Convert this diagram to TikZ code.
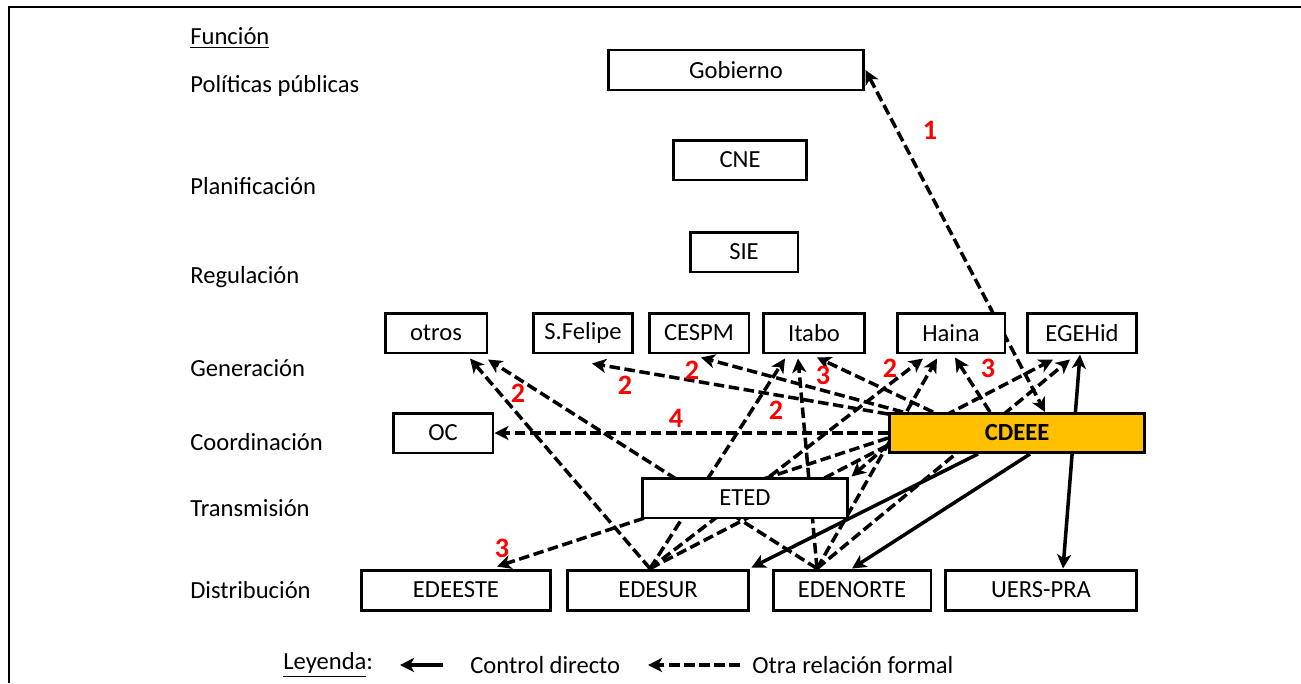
\documentclass[tikz,border=0pt]{standalone}
\usepackage{fontspec}
\setmainfont{Carlito}
\usetikzlibrary{arrows.meta,calc,backgrounds}
\definecolor{HubOrange}{RGB}{255,192,0}
\definecolor{NumRed}{RGB}{255,0,0}
\tikzset{
  >={Stealth[length=8pt,width=8pt,inset=2.2pt]},
  box/.style={draw=black,line width=1.7pt,fill=white,align=center,font=\fontsize{14}{16}\selectfont,minimum height=.8cm,inner sep=2pt},
  hub/.style={box,fill=HubOrange,font=\fontsize{14}{16}\selectfont\bfseries},
  func/.style={anchor=west,inner sep=0pt,font=\fontsize{14}{16}\selectfont},
  num/.style={text=NumRed,font=\fontsize{16}{18}\selectfont\bfseries},
  ctrl/.style={->,line width=2pt},
  rel/.style={->,line width=2pt,dash pattern=on 6pt off 2.6pt}
}

\begin{document}
\begin{tikzpicture}[x=0.02cm,y=-0.02cm]
  \useasboundingbox (0,0) rectangle (1301,683);
  \draw[line width=1.1pt] (9,683) -- (9,7) -- (1301,7);
  % function column
  \node[func] (fFun) at (190,38) {\underline{Función}};
  \node[func] (fPol) at (190,86) {Políticas públicas};
  \node[func] (fPla) at (190,186) {Planificación};
  \node[func] (fReg) at (190,277) {Regulación};
  \node[func] (fGen) at (190,368) {Generación};
  \node[func] (fCoo) at (190,442) {Coordinación};
  \node[func] (fTra) at (190,508) {Transmisión};
  \node[func] (fDis) at (190,590) {Distribución};
  % actors
  \node[box,minimum width=5.12cm] (gob) at (736,70) {Gobierno};
  \node[box,minimum width=2.66cm] (cne) at (740,160) {CNE};
  \node[box,minimum width=2.16cm] (sie) at (744,252) {SIE};
  \node[box,minimum width=2.04cm] (otros) at (436,333) {otros};
  \node[box,minimum width=1.98cm] (sfelipe) at (583,333) {S.Felipe};
  \node[box,minimum width=2.0cm] (cespm) at (699,333) {CESPM};
  \node[box,minimum width=2.02cm] (itabo) at (814,333) {Itabo};
  \node[box,minimum width=2.16cm] (haina) at (951,333) {Haina};
  \node[box,minimum width=2.18cm] (egehid) at (1082,333) {EGEHid};
  \node[box,minimum width=2.0cm] (oc) at (443,433) {OC};
  \node[hub,minimum width=5.1cm,minimum height=.78cm] (cdeee) at (1017,433) {CDEEE};
  \node[box,minimum width=4.12cm] (eted) at (745,498) {ETED};
  \node[box,minimum width=3.8cm] (edeeste) at (456,590) {EDEESTE};
  \node[box,minimum width=3.64cm] (edesur) at (658,590) {EDESUR};
  \node[box,minimum width=3.16cm] (edenorte) at (852,590) {EDENORTE};
  \node[box,minimum width=3.82cm] (uers) at (1041,590) {UERS-PRA};
  % connectors go behind the boxes
  \begin{scope}[on background layer]
    \draw[rel,<->] (gob.east) -- ($(cdeee.north)+(28,0)$);
    \draw[rel] (cdeee.west) -- (oc.east);
    \draw[rel] ($(cdeee.north west)+(0,2)$) -- ($(sfelipe.south)+(9,9)$);
    \draw[rel] ($(cdeee.north west)+(15,0)$) -- ($(cespm.south)+(2,3)$);
    \draw[rel] ($(cdeee.north west)+(45,0)$) -- ($(itabo.south)+(3,3)$);
    \draw[rel] ($(cdeee.north)+(-27,0)$) -- ($(haina.south)+(4,3)$);
    \draw[rel] ($(cdeee.west)+(0,5)$) -- ($(edeeste.north)+(41,-2)$);
    \draw[rel] ($(cdeee.west)+(0,12)$) -- ($(eted.north east)+(2,0)$);
    \draw[rel] ($(edesur.north)+(-8,0)$) -- ($(otros.south)+(34,4)$);
    \draw[rel] ($(edesur.north)+(-8,0)$) -- ($(itabo.south)+(-29,4)$);
    \draw[rel] ($(edesur.north)+(-8,0)$) -- ($(haina.south)+(-28,4)$);
    \draw[rel] ($(edesur.north)+(-8,0)$) -- ($(egehid.south)+(-29,5)$);
    \draw[rel] ($(edenorte.north)+(-35,0)$) -- ($(otros.south)+(52,5)$);
    \draw[rel] ($(edenorte.north)+(-35,0)$) -- ($(itabo.south)+(-16,4)$);
    \draw[rel] ($(edenorte.north)+(-35,0)$) -- ($(haina.south)+(-14,4)$);
    \draw[rel] ($(edenorte.north)+(-35,0)$) -- ($(egehid.south)+(-12,5)$);
    \draw[ctrl] ($(cdeee.south)+(-39,0)$) -- ($(edesur.north east)+(1,-1)$);
    \draw[ctrl] ($(cdeee.south)+(13,0)$) -- (edenorte.north);
    \draw[ctrl,<->] ($(egehid.south)+(-2,0)$) -- ($(uers.north)+(22,0)$);
  \end{scope}
  % relation counts
  \node[num] (n1) at (930,130) {1};
  \node[num] (n4) at (676,418) {4};
  \node[num] (nSF) at (625,385) {2};
  \node[num] (nCE) at (692,370) {2};
  \node[num] (nIS) at (776,410) {2};
  \node[num] (nIT) at (823,375) {3};
  \node[num] (nHL) at (890,368) {2};
  \node[num] (nHR) at (988,368) {3};
  \node[num] (nOT) at (518,393) {2};
  \node[num] (nEE) at (502,548) {3};
  % legend
  \node[func] (ley) at (283,665) {\underline{Leyenda}:};
  \coordinate (ctrlS) at (443,665);
  \coordinate (ctrlE) at (400,665);
  \draw[ctrl] (ctrlS) -- (ctrlE);
  \node[func] (ctrlTxt) at (470,665) {Control directo};
  \coordinate (relS) at (740,665);
  \coordinate (relE) at (648,665);
  \draw[rel] (relS) -- (relE);
  \node[func] (relTxt) at (752,665) {Otra relación formal};
\end{tikzpicture}
\end{document}
